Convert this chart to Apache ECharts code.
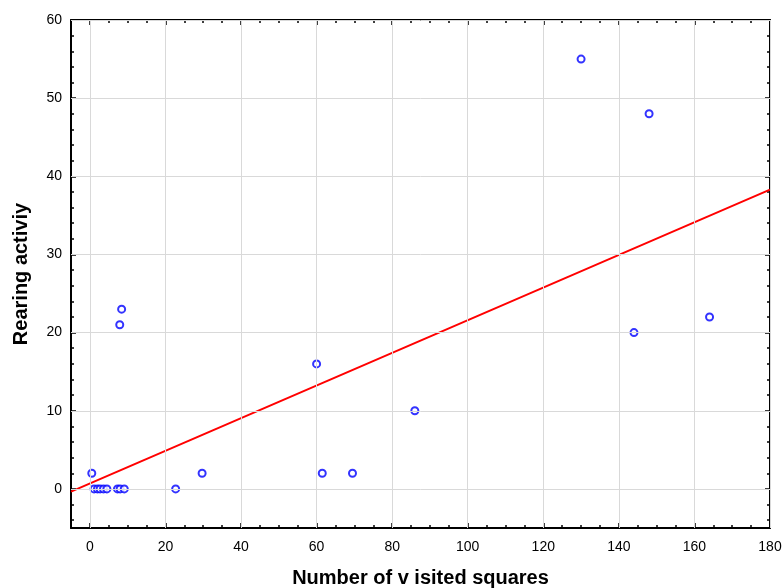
<!DOCTYPE html>
<html>
<head>
<meta charset="utf-8">
<script src="https://cdn.jsdelivr.net/npm/echarts@6/dist/echarts.min.js"></script>
<style>
html,body{margin:0;padding:0;background:#fff;}
#chart{width:783px;height:588px;}
</style>
</head>
<body>
<div id="chart"></div>
<script>
// Data
const visitedSquares = [0.5, 1.1, 2.0, 2.7, 3.6, 4.5, 7.3, 8.0, 9.1, 7.9, 8.4, 22.7, 29.7, 60, 61.5, 69.5, 86, 130, 148, 144, 164];
const rearing =        [2,   0,   0,   0,   0,   0,   0,   0,   0,   21,  23,  0,    2,    16, 2,    2,    10, 55,  48,  20,  22];
const fitX = [-5, 180];
const fitY = [-0.35, 38.3];
const xTickLabels = [0, 20, 40, 60, 80, 100, 120, 140, 160, 180];
const xMinorTicks = [0,5,10,15,20,25,30,35,40,45,50,55,60,65,70,75,80,85,90,95,100,105,110,115,120,125,130,135,140,145,150,155,160,165,170,175,180];
const yTickLabels = [0, 10, 20, 30, 40, 50, 60];
const yMinorTicks = [-4,-2,0,2,4,6,8,10,12,14,16,18,20,22,24,26,28,30,32,34,36,38,40,42,44,46,48,50,52,54,56,58,60];
const xRange = [-5, 180];
const yRange = [-5, 60];

const chart = echarts.init(document.getElementById('chart'));
const FONT = '"Liberation Sans", Arial, sans-serif';
const axisLineStyle = {color: '#000', width: 2};

function xAx(pos, values, len, withLine, withLabel, name) {
  return {
    type: 'value', position: pos, min: xRange[0], max: xRange[1],
    name: name || '', nameLocation: 'middle', nameGap: 40,
    nameTextStyle: {fontFamily: FONT, fontWeight: 'bold', fontSize: 20, color: '#000'},
    axisLine: {show: withLine, onZero: false, lineStyle: axisLineStyle},
    axisTick: {show: true, inside: true, length: len, customValues: values, lineStyle: {color: '#000', width: 1.5}},
    axisLabel: {show: withLabel, customValues: xTickLabels, fontFamily: FONT, fontSize: 14, color: '#000', margin: 12},
    splitLine: {show: false}
  };
}
function yAx(pos, values, len, withLine, withLabel, name) {
  return {
    type: 'value', position: pos, min: yRange[0], max: yRange[1],
    name: name || '', nameLocation: 'middle', nameGap: 40, nameRotate: 90,
    nameTextStyle: {fontFamily: FONT, fontWeight: 'bold', fontSize: 20, color: '#000'},
    axisLine: {show: withLine, onZero: false, lineStyle: axisLineStyle},
    axisTick: {show: true, inside: true, length: len, customValues: values, lineStyle: {color: '#000', width: 1.5}},
    axisLabel: {show: withLabel, customValues: yTickLabels, fontFamily: FONT, fontSize: 14, color: '#000', margin: 9},
    splitLine: {show: false}
  };
}

const points = visitedSquares.map((x, i) => [x, rearing[i]]);
const fitLine = fitX.map((x, i) => [x, fitY[i]]);
const gridColor = '#d9d9d9';

chart.setOption({
  animation: false,
  backgroundColor: '#fff',
  grid: {left: 71, right: 13, top: 20, bottom: 60, containLabel: false, outerBoundsMode: 'none'},
  xAxis: [
    xAx('bottom', xTickLabels, 5, true, true, 'Number of v isited squares'),
    xAx('bottom', xMinorTicks, 3, false, false),
    xAx('top', xTickLabels, 5, true, false),
    xAx('top', xMinorTicks, 3, false, false)
  ],
  yAxis: [
    yAx('left', yTickLabels, 5, true, true, 'Rearing activiy'),
    yAx('left', yMinorTicks, 3, false, false),
    yAx('right', yTickLabels, 5, true, false),
    yAx('right', yMinorTicks, 3, false, false)
  ],
  series: [
    {
      type: 'line', data: [], xAxisIndex: 0, yAxisIndex: 0, silent: true,
      markLine: {
        silent: true, symbol: ['none', 'none'], label: {show: false},
        lineStyle: {color: gridColor, width: 1, type: 'solid'},
        data: xTickLabels.map(v => ({xAxis: v})).concat(yTickLabels.map(v => ({yAxis: v}))),
        animation: false
      },
      z: 1
    },
    {
      type: 'line', data: fitLine, xAxisIndex: 0, yAxisIndex: 0,
      symbol: 'none', lineStyle: {color: '#ff0000', width: 2}, z: 3, silent: true
    },
    {
      type: 'scatter', data: points, xAxisIndex: 0, yAxisIndex: 0,
      symbol: 'emptyCircle', symbolSize: 7,
      itemStyle: {color: '#0000ff', borderColor: '#0000ff', borderWidth: 2},
      z: 4, silent: true
    }
  ]
});
</script>
</body>
</html>
